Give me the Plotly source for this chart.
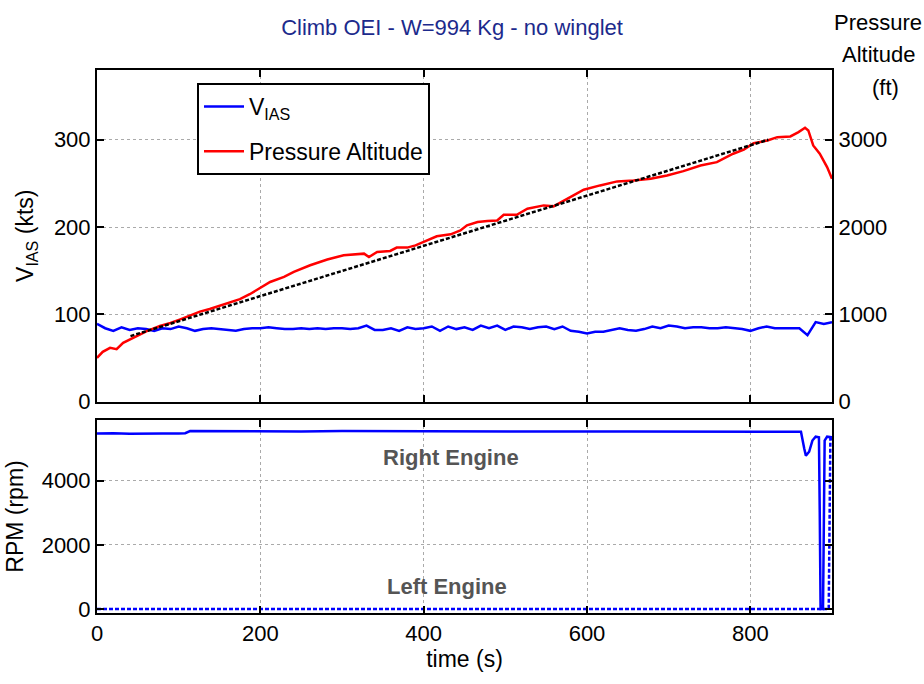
import plotly.graph_objects as go

# ---- data -------------------------------------------------------------
# indicated airspeed (kts), sampled every 10 s
vias_t = list(range(0, 910, 10))
vias_kts = [89, 84, 81, 85, 82, 84, 83, 81, 84, 83,
            86, 84, 81, 83, 84, 83, 82, 81, 83, 84,
            84, 85, 84, 83, 83, 84, 83, 84, 83, 84,
            84, 83, 84, 87, 82, 82, 84, 81, 85, 83,
            84, 86, 81, 86, 83, 85, 82, 87, 84, 87,
            82, 86, 85, 83, 85, 86, 83, 86, 81, 80,
            78, 80, 80, 82, 84, 82, 81, 83, 86, 84,
            87, 86, 84, 85, 85, 84, 84, 85, 84, 83,
            81, 84, 86, 84, 84, 84, 84, 76, 91, 89,
            91]

# pressure altitude (ft)
alt_t = [0, 7, 16, 24, 32, 45, 61, 77, 90, 102,
         114, 126, 138, 150, 162, 175, 187, 200, 212, 229,
         241, 261, 282, 302, 315, 327, 333, 343, 359, 367,
         380, 390, 400, 416, 433, 445, 453, 466, 478, 490,
         498, 514, 527, 547, 559, 576, 596, 616, 637, 657,
         678, 698, 718, 739, 759, 779, 792, 804, 821, 833,
         849, 859, 867, 871, 877, 885, 894, 900]
alt_ft = [500, 569, 615, 600, 673, 730, 807, 865, 900, 942,
          985, 1030, 1060, 1096, 1135, 1173, 1230, 1300, 1370, 1428,
          1485, 1562, 1627, 1676, 1690, 1695, 1657, 1714, 1726, 1764,
          1764, 1790, 1829, 1894, 1916, 1960, 2019, 2057, 2070, 2076,
          2141, 2141, 2210, 2248, 2237, 2325, 2428, 2477, 2523, 2534,
          2553, 2591, 2641, 2706, 2744, 2840, 2886, 2961, 2992, 3030,
          3038, 3088, 3138, 3107, 2935, 2840, 2687, 2554]

# linear climb fit (ft)
fit_t = [41, 822]
fit_ft = [750, 3000]

# engine speeds (rpm)
right_t = [0, 20, 40, 60, 80, 100, 108, 114, 150, 200,
           250, 300, 350, 400, 450, 500, 550, 600, 650, 700,
           750, 800, 840, 862, 866, 868, 872, 876, 880, 884,
           885, 886, 888, 889, 890, 891, 894, 897, 900]
right_rpm = [5470, 5480, 5465, 5475, 5470, 5470, 5480, 5545, 5540, 5545,
             5535, 5545, 5540, 5535, 5540, 5535, 5540, 5530, 5535, 5530,
             5530, 5525, 5530, 5520, 5000, 4780, 4900, 5250, 5370, 5350,
             3000, 0, 0, 0, 2600, 5250, 5370, 5370, 5350]
left_t = [0, 200, 400, 600, 800, 896, 898, 900]
left_rpm = [0, 0, 0, 0, 0, 0, 5300, 5300]

x_ticks = [0, 200, 400, 600, 800]
vias_ticks = [0, 100, 200, 300]
alt_ticks = [0, 1000, 2000, 3000]
rpm_ticks = [0, 2000, 4000]

# ---- styling ----------------------------------------------------------
FONT = "Liberation Sans, Arial, sans-serif"
FS = 22
BLUE = "#0000ff"
RED = "#ff0000"

axis_common = dict(
    showline=True, linecolor="black", linewidth=2,
    ticks="inside", ticklen=7, tickwidth=2, tickcolor="black",
    showgrid=True, gridcolor="#aaaaaa", gridwidth=1, griddash="dot",
    zeroline=False, tickfont=dict(size=FS, family=FONT, color="black"),
    automargin=False,
)

fig = go.Figure()

fig.add_trace(go.Scatter(x=vias_t, y=vias_kts, mode="lines",
                         line=dict(color=BLUE, width=2.5),
                         name="V<sub>IAS</sub>", legendgroup="a",
                         xaxis="x", yaxis="y"))
fig.add_trace(go.Scatter(x=alt_t, y=alt_ft, mode="lines",
                         line=dict(color=RED, width=2.5),
                         name="Pressure Altitude", legendgroup="b",
                         xaxis="x", yaxis="y2"))
fig.add_trace(go.Scatter(x=fit_t, y=fit_ft, mode="lines",
                         line=dict(color="black", width=2.5, dash="4px,2px"),
                         showlegend=False, xaxis="x", yaxis="y2"))
fig.add_trace(go.Scatter(x=right_t, y=right_rpm, mode="lines",
                         line=dict(color=BLUE, width=2.5),
                         showlegend=False, xaxis="x2", yaxis="y3"))
fig.add_trace(go.Scatter(x=left_t, y=left_rpm, mode="lines",
                         line=dict(color=BLUE, width=2.5, dash="4px,2px"),
                         showlegend=False, xaxis="x2", yaxis="y3"))

x_dom = [97 / 924, 832 / 924]
top_dom = [1 - 401.5 / 684, 1 - 70 / 684]
bot_dom = [1 - 613 / 684, 1 - 420 / 684]


def py(px):
    return 1 - px / 684


fig.update_layout(
    width=924, height=684,
    margin=dict(l=0, r=0, t=0, b=0),
    paper_bgcolor="white", plot_bgcolor="white",
    font=dict(family=FONT, size=FS, color="black"),
    title=dict(text="Climb OEI - W=994 Kg - no winglet",
               x=452 / 924, xanchor="center", y=py(27), yanchor="middle",
               font=dict(family=FONT, size=22, color="#1c2a8c")),
    xaxis=dict(axis_common, domain=x_dom, range=[0, 900], anchor="y",
               tickvals=x_ticks, showticklabels=False, mirror="ticks"),
    yaxis=dict(axis_common, domain=top_dom, range=[0, 380], anchor="x",
               tickvals=vias_ticks,
               title=dict(text="V<sub>IAS</sub> (kts)", standoff=14,
                          font=dict(size=FS + 1, family=FONT))),
    yaxis2=dict(axis_common, overlaying="y", side="right", anchor="x",
                range=[0, 3800], tickvals=alt_ticks, showgrid=False),
    xaxis2=dict(axis_common, domain=x_dom, range=[0, 900], anchor="y3",
                tickvals=x_ticks, mirror="ticks",
                title=dict(text="time (s)", standoff=4,
                           font=dict(size=FS + 1, family=FONT))),
    yaxis3=dict(axis_common, domain=bot_dom, range=[-125, 5890], anchor="x2",
                tickvals=rpm_ticks, mirror="ticks",
                title=dict(text="RPM (rpm)", standoff=12,
                           font=dict(size=FS + 1, family=FONT))),
    legend=dict(x=197 / 924, y=py(83), xanchor="left", yanchor="top",
                bgcolor="white", bordercolor="black", borderwidth=2,
                font=dict(size=FS + 1, family=FONT, color="black"),
                itemwidth=40, traceorder="grouped", tracegroupgap=12),
    annotations=[
        dict(text="Pressure", xref="paper", yref="paper",
             x=878 / 924, y=py(22), xanchor="center", yanchor="middle",
             showarrow=False, font=dict(size=FS, family=FONT, color="black")),
        dict(text="Altitude", xref="paper", yref="paper",
             x=878 / 924, y=py(54), xanchor="center", yanchor="middle",
             showarrow=False, font=dict(size=FS, family=FONT, color="black")),
        dict(text="(ft)", xref="paper", yref="paper",
             x=885 / 924, y=py(87), xanchor="center", yanchor="middle",
             showarrow=False, font=dict(size=FS, family=FONT, color="black")),
        dict(text="<b>Right Engine</b>", xref="x2", yref="y3", x=434, y=4706,
             showarrow=False, font=dict(size=FS, family=FONT, color="#555555")),
        dict(text="<b>Left Engine</b>", xref="x2", yref="y3", x=429, y=690,
             showarrow=False, font=dict(size=FS, family=FONT, color="#555555")),
    ],
)

fig.write_html("out.html")
